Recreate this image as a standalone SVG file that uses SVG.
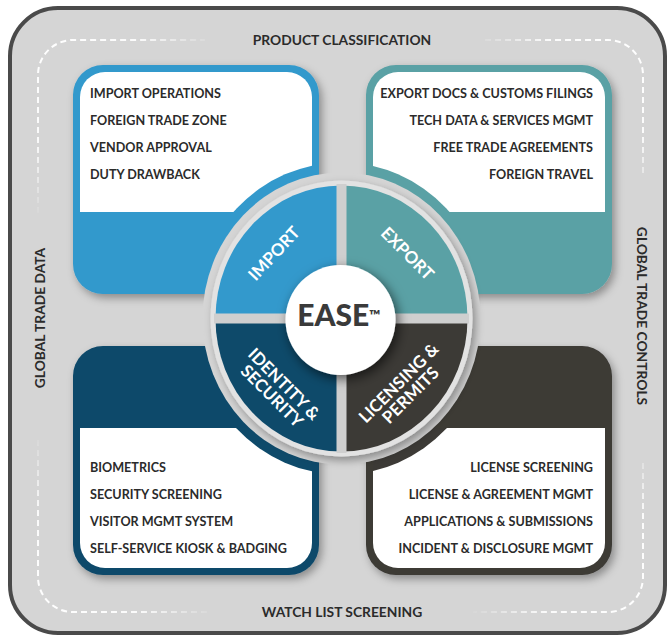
<svg xmlns="http://www.w3.org/2000/svg" width="669" height="638" viewBox="0 0 669 638">
<defs>
<style>
.lbl{font-family:Lato,"Open Sans","Liberation Sans",sans-serif;font-weight:700;fill:#2b2b2b;font-size:12.6px}
.edge{font-family:Lato,"Open Sans","Liberation Sans",sans-serif;font-weight:700;fill:#2b2b2b;font-size:13.8px;text-anchor:middle}
.seg{font-family:Lato,"Open Sans","Liberation Sans",sans-serif;font-weight:700;fill:#ffffff;font-size:17px;text-anchor:middle}
.r{text-anchor:end}
.dash{fill:none;stroke-width:2;stroke-dasharray:6 4}
.white{fill:#ffffff}
</style>
<filter id="sh" x="-20%" y="-20%" width="140%" height="140%">
<feDropShadow dx="3" dy="4" stdDeviation="4" flood-color="#000" flood-opacity="0.35"/>
</filter>
<filter id="shc" x="-40%" y="-40%" width="180%" height="180%">
<feDropShadow dx="3" dy="4" stdDeviation="6" flood-color="#000" flood-opacity="0.6"/>
</filter>
<radialGradient id="gTL" gradientUnits="userSpaceOnUse" cx="38" cy="40" r="180"><stop offset="0" stop-color="#fff" stop-opacity="1"/><stop offset="0.55" stop-color="#fff" stop-opacity="0.9"/><stop offset="1" stop-color="#fff" stop-opacity="0"/></radialGradient>
<radialGradient id="gTR" gradientUnits="userSpaceOnUse" cx="643" cy="40" r="170"><stop offset="0" stop-color="#fff" stop-opacity="1"/><stop offset="0.55" stop-color="#fff" stop-opacity="0.9"/><stop offset="1" stop-color="#fff" stop-opacity="0"/></radialGradient>
<radialGradient id="gBR" gradientUnits="userSpaceOnUse" cx="643" cy="612" r="175"><stop offset="0" stop-color="#fff" stop-opacity="1"/><stop offset="0.55" stop-color="#fff" stop-opacity="0.9"/><stop offset="1" stop-color="#fff" stop-opacity="0"/></radialGradient>
<radialGradient id="gBL" gradientUnits="userSpaceOnUse" cx="38" cy="612" r="180"><stop offset="0" stop-color="#fff" stop-opacity="1"/><stop offset="0.55" stop-color="#fff" stop-opacity="0.9"/><stop offset="1" stop-color="#fff" stop-opacity="0"/></radialGradient>
<clipPath id="cTL"><path d="M80,212 V97 A25,25 0 0 1 105,72 H287 A25,25 0 0 1 312,97 V212 Z"/></clipPath>
<clipPath id="cTR"><path d="M373,212 V97 A25,25 0 0 1 398,72 H580 A25,25 0 0 1 605,97 V212 Z"/></clipPath>
<clipPath id="cBL"><path d="M80,428 V543 A25,25 0 0 0 105,568 H287 A25,25 0 0 0 312,543 V428 Z"/></clipPath>
<clipPath id="cBR"><path d="M373,428 V543 A25,25 0 0 0 398,568 H580 A25,25 0 0 0 605,543 V428 Z"/></clipPath>
</defs>

<rect x="0" y="0" width="669" height="638" fill="#ffffff"/>
<g id="frame">
<rect x="10" y="8" width="655" height="625" rx="48" fill="#d5d5d5" stroke="#4a4a4a" stroke-width="4"/>
<path class="dash" stroke="url(#gTL)" d="M38,213 V75 A35,35 0 0 1 73,40 H205"/>
<path class="dash" stroke="url(#gTR)" d="M485,40 H608 A35,35 0 0 1 643,75 V177"/>
<path class="dash" stroke="url(#gBR)" d="M643,463 V577 A35,35 0 0 1 608,612 H473"/>
<path class="dash" stroke="url(#gBL)" d="M207,612 H73 A35,35 0 0 1 38,577 V440"/>
<text class="edge" x="342" y="45">PRODUCT CLASSIFICATION</text>
<text class="edge" x="342" y="617">WATCH LIST SCREENING</text>
<text class="edge" transform="translate(45,318) rotate(-90)">GLOBAL TRADE DATA</text>
<text class="edge" transform="translate(637,316) rotate(90)">GLOBAL TRADE CONTROLS</text>
</g>

<g id="card-import">
<rect x="73" y="65" width="246" height="229" rx="30" fill="#3399cc" filter="url(#sh)"/>
<path class="white" d="M80,212 V97 A25,25 0 0 1 105,72 H287 A25,25 0 0 1 312,97 V212 Z"/>
<ellipse cx="341.5" cy="318.5" rx="148" ry="156" fill="#3399cc" clip-path="url(#cTL)"/>
<text class="lbl" x="90" y="98">IMPORT OPERATIONS</text>
<text class="lbl" x="90" y="125">FOREIGN TRADE ZONE</text>
<text class="lbl" x="90" y="152">VENDOR APPROVAL</text>
<text class="lbl" x="90" y="179">DUTY DRAWBACK</text>
</g>

<g id="card-export">
<rect x="366" y="65" width="246" height="229" rx="30" fill="#5aa1a5" filter="url(#sh)"/>
<path class="white" d="M373,212 V97 A25,25 0 0 1 398,72 H580 A25,25 0 0 1 605,97 V212 Z"/>
<ellipse cx="341.5" cy="318.5" rx="148" ry="156" fill="#5aa1a5" clip-path="url(#cTR)"/>
<text class="lbl r" x="593" y="98">EXPORT DOCS &amp; CUSTOMS FILINGS</text>
<text class="lbl r" x="593" y="125">TECH DATA &amp; SERVICES MGMT</text>
<text class="lbl r" x="593" y="152">FREE TRADE AGREEMENTS</text>
<text class="lbl r" x="593" y="179">FOREIGN TRAVEL</text>
</g>

<g id="card-identity">
<rect x="73" y="346" width="246" height="229" rx="30" fill="#0e4a6a" filter="url(#sh)"/>
<path class="white" d="M80,428 V543 A25,25 0 0 0 105,568 H287 A25,25 0 0 0 312,543 V428 Z"/>
<ellipse cx="341.5" cy="318.5" rx="148" ry="156" fill="#0e4a6a" clip-path="url(#cBL)"/>
<text class="lbl" x="90" y="472">BIOMETRICS</text>
<text class="lbl" x="90" y="499">SECURITY SCREENING</text>
<text class="lbl" x="90" y="526">VISITOR MGMT SYSTEM</text>
<text class="lbl" x="90" y="553">SELF-SERVICE KIOSK &amp; BADGING</text>
</g>

<g id="card-licensing">
<rect x="366" y="346" width="246" height="229" rx="30" fill="#3c3a36" filter="url(#sh)"/>
<path class="white" d="M373,428 V543 A25,25 0 0 0 398,568 H580 A25,25 0 0 0 605,543 V428 Z"/>
<ellipse cx="341.5" cy="318.5" rx="148" ry="156" fill="#3c3a36" clip-path="url(#cBR)"/>
<text class="lbl r" x="593" y="472">LICENSE SCREENING</text>
<text class="lbl r" x="593" y="499">LICENSE &amp; AGREEMENT MGMT</text>
<text class="lbl r" x="593" y="526">APPLICATIONS &amp; SUBMISSIONS</text>
<text class="lbl r" x="593" y="553">INCIDENT &amp; DISCLOSURE MGMT</text>
</g>

<g id="wheel">
<ellipse cx="341.5" cy="318.5" rx="139" ry="146" fill="#d5d5d5"/>
<ellipse cx="341.5" cy="318.5" rx="131" ry="138" fill="#e2e2e2" filter="url(#sh)"/>
<path d="M341.5,318.5 H215.5 A126,133 0 0 1 341.5,185.5 Z" fill="#3399cc"/>
<path d="M341.5,318.5 V185.5 A126,133 0 0 1 467.5,318.5 Z" fill="#5aa1a5"/>
<path d="M341.5,318.5 H215.5 A126,133 0 0 0 341.5,451.5 Z" fill="#0e4a6a"/>
<path d="M341.5,318.5 V451.5 A126,133 0 0 0 467.5,318.5 Z" fill="#3c3a36"/>
<rect x="336.5" y="184" width="10" height="269" fill="#cfcfcf"/>
<rect x="214" y="313.5" width="255" height="10" fill="#cfcfcf"/>
</g>

<g id="seg-import"><text class="seg" transform="translate(274,253.5) rotate(-47)" y="6">IMPORT</text></g>
<g id="seg-export"><text class="seg" transform="translate(407.5,253.5) rotate(45)" y="6">EXPORT</text></g>
<g id="seg-identity"><text class="seg" transform="translate(278,390) rotate(45)"><tspan x="0" y="-2.5">IDENTITY &amp;</tspan><tspan x="0" y="14.5">SECURITY</tspan></text></g>
<g id="seg-licensing"><text class="seg" transform="translate(404.5,389) rotate(-45)"><tspan x="0" y="-2.5">LICENSING &amp;</tspan><tspan x="0" y="14.5">PERMITS</tspan></text></g>

<g id="ease">
<circle cx="340.5" cy="320" r="55" fill="#ffffff" filter="url(#shc)"/>
<text x="339" y="326" text-anchor="middle" font-family="Lato,'Open Sans','Liberation Sans',sans-serif" font-weight="900" font-size="30" fill="#3a3a3a">EASE<tspan font-size="15" dy="-5">™</tspan></text>
</g>
</svg>
